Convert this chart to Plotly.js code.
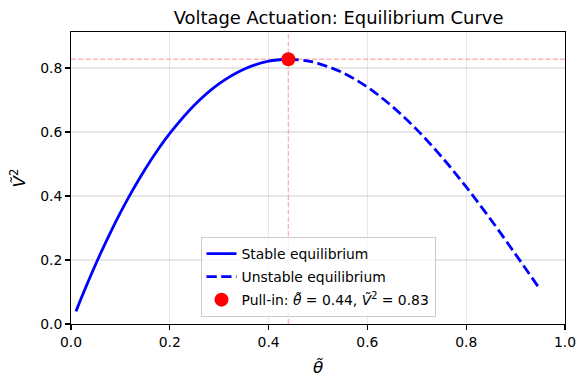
<!DOCTYPE html>
<html>
<head>
<meta charset="utf-8">
<script src="https://cdn.plot.ly/plotly-3.0.1.min.js"></script>
<style>
  html, body { margin: 0; padding: 0; background: #fff; }
  #chart { width: 587px; height: 387px; }
</style>
</head>
<body>
<div id="chart"></div>
<script>
// Stable branch (theta from 0.01 up to pull-in)
const thetaStable = [0.01, 0.02, 0.03, 0.04, 0.05, 0.06, 0.08, 0.10, 0.12, 0.15, 0.18, 0.20, 0.25, 0.30, 0.35, 0.40, 0.44];
const v2Stable    = [0.0395, 0.0779, 0.1152, 0.1515, 0.1868, 0.2210, 0.2864, 0.3478, 0.4051, 0.4838, 0.5538, 0.5958, 0.6845, 0.7511, 0.7963, 0.8214, 0.8274];

// Unstable branch (pull-in onward)
const thetaUnstable = [0.44, 0.475, 0.50, 0.55, 0.60, 0.65, 0.70, 0.75, 0.80, 0.85, 0.90, 0.945];
const v2Unstable    = [0.8274, 0.8231, 0.8147, 0.7853, 0.7401, 0.6803, 0.6074, 0.5229, 0.4283, 0.3258, 0.2177, 0.1182];

// Pull-in point
const pullTheta = [0.44];
const pullV2 = [0.8274];

const xTicks = [0, 0.2, 0.4, 0.6, 0.8, 1.0];
const xTickText = ['0.0', '0.2', '0.4', '0.6', '0.8', '1.0'];
const yTicks = [0, 0.2, 0.4, 0.6, 0.8];
const yTickText = ['0.0', '0.2', '0.4', '0.6', '0.8'];

const FONT = 'DejaVu Sans, sans-serif';

const traces = [
  {
    x: thetaStable, y: v2Stable, mode: 'lines', name: 'Stable equilibrium',
    legendgroup: 'a',
    line: { color: '#0000ff', width: 2.8, shape: 'spline' }
  },
  {
    x: thetaUnstable, y: v2Unstable, mode: 'lines', name: 'Unstable equilibrium',
    legendgroup: 'b',
    line: { color: '#0000ff', width: 2.8, dash: '10.3px,4.4px', shape: 'spline' }
  },
  {
    x: pullTheta, y: pullV2, mode: 'markers',
    legendgroup: 'c',
    name: 'Pull-in: <i>θ\u0303</i> = 0.44, <i>\u1E7C</i><sup>2</sup> = 0.83',
    marker: { color: '#ff0000', size: 14 }
  }
];

const layout = {
  width: 587, height: 387,
  paper_bgcolor: '#ffffff', plot_bgcolor: '#ffffff',
  margin: { l: 71, r: 22, t: 32, b: 63, pad: 0 },
  font: { family: FONT, color: '#000', size: 13.9 },
  title: {
    text: 'Voltage Actuation: Equilibrium Curve',
    font: { family: FONT, size: 17.9, color: '#000' },
    x: 0.5416, xref: 'paper', xanchor: 'center',
    y: 0.953, yref: 'container', yanchor: 'middle'
  },
  xaxis: {
    range: [0, 1], tickvals: xTicks, ticktext: xTickText,
    showline: true, mirror: true, linecolor: '#000', linewidth: 1.1,
    ticks: 'outside', ticklen: 4.9, tickwidth: 1.1, tickcolor: '#000',
    showgrid: true, gridcolor: 'rgba(176,176,176,0.3)', gridwidth: 1.1,
    zeroline: false, tickfont: { family: FONT, size: 13.9 },
    title: { text: '<i>θ\u0303</i>', font: { family: FONT, size: 16.7 }, standoff: 12 },
    automargin: false, fixedrange: true
  },
  yaxis: {
    range: [0, 0.9125], tickvals: yTicks, ticktext: yTickText,
    showline: true, mirror: true, linecolor: '#000', linewidth: 1.1,
    ticks: 'outside', ticklen: 4.9, tickwidth: 1.1, tickcolor: '#000',
    showgrid: true, gridcolor: 'rgba(176,176,176,0.3)', gridwidth: 1.1,
    zeroline: false, tickfont: { family: FONT, size: 13.9 },
    title: { text: '<i>\u1E7C</i><sup>2</sup>', font: { family: FONT, size: 16.7 }, standoff: 10 },
    automargin: false, fixedrange: true
  },
  shapes: [
    { type: 'line', xref: 'x', yref: 'paper', x0: pullTheta[0], x1: pullTheta[0], y0: 0, y1: 1,
      line: { color: 'rgba(255,0,0,0.3)', width: 1.4, dash: '5.1px,2.2px' }, layer: 'below' },
    { type: 'line', xref: 'paper', yref: 'y', x0: 0, x1: 1, y0: pullV2[0], y1: pullV2[0],
      line: { color: 'rgba(255,0,0,0.3)', width: 1.4, dash: '5.1px,2.2px' }, layer: 'below' }
  ],
  showlegend: true,
  legend: {
    x: 0.5, y: 0.024, xanchor: 'center', yanchor: 'bottom',
    bgcolor: 'rgba(255,255,255,0.8)', bordercolor: '#cccccc', borderwidth: 1,
    font: { family: FONT, size: 13.9, color: '#000' },
    itemwidth: 30, tracegroupgap: 2
  }
};

Plotly.newPlot('chart', traces, layout, { staticPlot: true, displayModeBar: false });
</script>
</body>
</html>
